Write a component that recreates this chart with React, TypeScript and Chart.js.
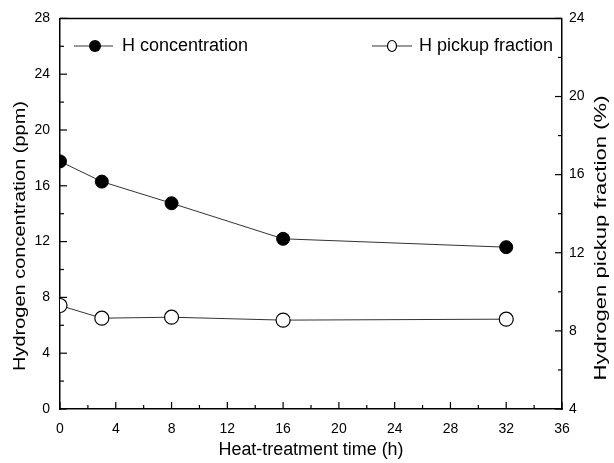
import { useEffect, useRef } from 'react';
import { Chart, registerables } from 'chart.js';

Chart.register(...registerables);

const times = [0, 3, 8, 16, 32];
const hConcentration = [17.75, 16.3, 14.75, 12.2, 11.6];
const hPickupFraction = [9.3, 8.65, 8.7, 8.55, 8.6];

const xTicks = [0, 4, 8, 12, 16, 20, 24, 28, 32, 36];
const leftTicks = [0, 4, 8, 12, 16, 20, 24, 28];
const rightTicks = [4, 8, 12, 16, 20, 24];

const xTitle = 'Heat-treatment time (h)';
const leftTitle = 'Hydrogen concentration (ppm)';
const rightTitle = 'Hydrogen pickup fraction (%)';
const legendConc = 'H concentration';
const legendPickup = 'H pickup fraction';

const FONT = '"Liberation Sans", Arial, Helvetica, sans-serif';

function stretchedText(ctx: any, text: string, cx: number, cy: number, px: number, target: number, rot: number) {
  ctx.save();
  ctx.font = `${px}px ${FONT}`;
  const w = ctx.measureText(text).width;
  ctx.translate(cx, cy);
  ctx.rotate(rot);
  ctx.scale(target / w, 1);
  ctx.textAlign = 'center';
  ctx.textBaseline = 'middle';
  ctx.fillText(text, 0, 0);
  ctx.restore();
}

const decorPlugin = {
  id: 'decor',
  afterDraw(chart: any) {
    const { ctx, chartArea: a, scales } = chart;
    const x = scales.x, y = scales.y, y1 = scales.y1;
    ctx.save();
    ctx.strokeStyle = '#000';
    ctx.lineWidth = 1.5;
    ctx.beginPath();
    ctx.moveTo(a.left, a.top);
    ctx.lineTo(a.right, a.top);
    ctx.stroke();
    ctx.lineWidth = 1.2;
    for (let v = 0; v <= 36; v += 2) {
      const px = x.getPixelForValue(v);
      const len = v % 4 === 0 ? 7 : 4;
      ctx.beginPath();
      ctx.moveTo(px, a.bottom);
      ctx.lineTo(px, a.bottom - len);
      ctx.stroke();
    }
    for (let v = 0; v <= 28; v += 2) {
      const py = y.getPixelForValue(v);
      const len = v % 4 === 0 ? 7 : 4;
      ctx.beginPath();
      ctx.moveTo(a.left, py);
      ctx.lineTo(a.left + len, py);
      ctx.stroke();
    }
    for (let v = 4; v <= 24; v += 2) {
      const py = y1.getPixelForValue(v);
      const len = v % 4 === 0 ? 7 : 4;
      ctx.beginPath();
      ctx.moveTo(a.right, py);
      ctx.lineTo(a.right - len, py);
      ctx.stroke();
    }
    ctx.fillStyle = '#000';
    stretchedText(ctx, xTitle, 311, 450, 18, 185, 0);
    stretchedText(ctx, leftTitle, 20, 236, 17, 270, -Math.PI / 2);
    stretchedText(ctx, rightTitle, 601, 238, 17, 285, -Math.PI / 2);

    const ly = 46;
    ctx.lineWidth = 1;
    ctx.strokeStyle = '#333';
    ctx.beginPath();
    ctx.moveTo(74, ly);
    ctx.lineTo(113, ly);
    ctx.stroke();
    ctx.fillStyle = '#000';
    ctx.beginPath();
    ctx.arc(95, ly, 6, 0, Math.PI * 2);
    ctx.fill();
    ctx.beginPath();
    ctx.moveTo(372, ly);
    ctx.lineTo(412, ly);
    ctx.stroke();
    ctx.fillStyle = '#fff';
    ctx.beginPath();
    ctx.ellipse(392, ly, 4.5, 5.5, 0, 0, Math.PI * 2);
    ctx.fill();
    ctx.strokeStyle = '#000';
    ctx.lineWidth = 1.2;
    ctx.stroke();
    ctx.fillStyle = '#000';
    ctx.font = `18px ${FONT}`;
    ctx.textAlign = 'left';
    ctx.textBaseline = 'middle';
    ctx.fillText(legendConc, 122, ly);
    ctx.fillText(legendPickup, 419, ly);
    ctx.restore();
  },
};

export default function App() {
  const ref = useRef<HTMLCanvasElement | null>(null);
  useEffect(() => {
    if (!ref.current) return;
    const tickFont = { family: FONT, size: 14 };
    const chart = new Chart(ref.current, {
      type: 'line',
      data: {
        datasets: [
          {
            label: legendConc,
            data: times.map((t, i) => ({ x: t, y: hConcentration[i] })),
            xAxisID: 'x',
            yAxisID: 'y',
            borderColor: '#333',
            borderWidth: 1,
            pointRadius: 6.5,
            pointBackgroundColor: '#000',
            pointBorderColor: '#000',
            pointBorderWidth: 1,
            tension: 0,
          },
          {
            label: legendPickup,
            data: times.map((t, i) => ({ x: t, y: hPickupFraction[i] })),
            xAxisID: 'x',
            yAxisID: 'y1',
            borderColor: '#333',
            borderWidth: 1,
            pointRadius: 7,
            pointBackgroundColor: '#fff',
            pointBorderColor: '#000',
            pointBorderWidth: 1.2,
            tension: 0,
          },
        ],
      },
      options: {
        animation: false,
        responsive: false,
        layout: { padding: { top: 18, left: 0, right: 0, bottom: 0 } },
        plugins: { legend: { display: false }, tooltip: { enabled: false } },
        scales: {
          x: {
            type: 'linear',
            min: 0,
            max: 36,
            afterBuildTicks: (s: any) => { s.ticks = xTicks.map((v) => ({ value: v })); },
            afterFit: (s: any) => { s.height = 54; },
            ticks: { font: tickFont, color: '#000', padding: 12, maxRotation: 0 },
            grid: { display: false, drawTicks: false },
            border: { color: '#000', width: 1.5 },
          },
          y: {
            type: 'linear',
            position: 'left',
            min: 0,
            max: 28,
            afterBuildTicks: (s: any) => { s.ticks = leftTicks.map((v) => ({ value: v })); },
            afterFit: (s: any) => { s.width = 60; },
            ticks: { font: tickFont, color: '#000', padding: 10 },
            grid: { display: false, drawTicks: false },
            border: { color: '#000', width: 1.5 },
          },
          y1: {
            type: 'linear',
            position: 'right',
            min: 4,
            max: 24,
            afterBuildTicks: (s: any) => { s.ticks = rightTicks.map((v) => ({ value: v })); },
            afterFit: (s: any) => { s.width = 52; },
            ticks: { font: tickFont, color: '#000', padding: 7 },
            grid: { display: false, drawTicks: false },
            border: { color: '#000', width: 1.5 },
          },
        },
      },
      plugins: [decorPlugin],
    } as any);
    return () => chart.destroy();
  }, []);
  return (
    <div style={{ position: 'fixed', left: 0, top: 0, width: 614, height: 463, background: '#fff' }}>
      <canvas ref={ref} width={614} height={463} />
    </div>
  );
}
